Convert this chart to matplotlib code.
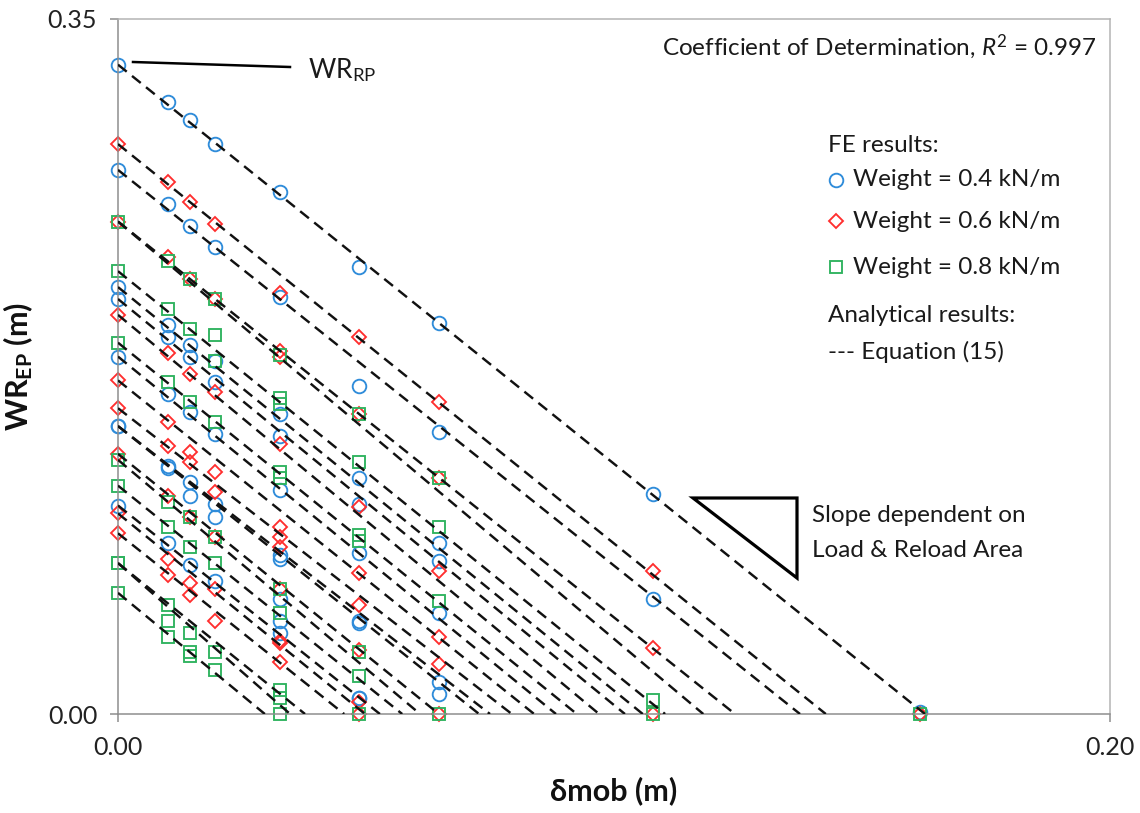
import matplotlib
matplotlib.use("Agg")
import matplotlib.pyplot as plt

plt.rcParams["font.family"] = ["Lato", "DejaVu Sans"]
plt.rcParams["mathtext.fontset"] = "custom"
plt.rcParams["mathtext.rm"] = "Lato"
plt.rcParams["mathtext.it"] = "Lato:italic"
plt.rcParams["mathtext.bf"] = "Lato:bold"

# Mobilised displacement steps (m) at which FE results were extracted
delta_steps = [0.0, 0.0101, 0.0145, 0.0196, 0.0327, 0.0486, 0.0647, 0.1079, 0.1617]

# FE results, WR_EP (m) at each displacement step
wr_w04 = [
    [0.327, 0.274, 0.215, 0.209, 0.180, 0.145, 0.145, 0.105],
    [0.308, 0.257, 0.196, 0.190, 0.161, 0.125, 0.124, 0.086],
    [0.299, 0.246, 0.186, 0.180, 0.152, 0.117, 0.110, 0.075],
    [0.287, 0.235, 0.178, 0.167, 0.141, 0.106, 0.099, 0.067],
    [0.263, 0.210, 0.151, 0.140, 0.113, 0.080, 0.078, 0.058, 0.047, 0.041],
    [0.225, 0.165, 0.119, 0.106, 0.081, 0.047, 0.046, 0.008, 0.008],
    [0.197, 0.142, 0.086, 0.077, 0.051, 0.016, 0.010],
    [0.111, 0.058],
    [0.001],
]
wr_w06 = [
    [0.287, 0.248, 0.201, 0.168, 0.154, 0.131, 0.101, 0.091],
    [0.268, 0.230, 0.182, 0.147, 0.135, 0.110, 0.078, 0.070],
    [0.258, 0.219, 0.171, 0.132, 0.127, 0.099, 0.066, 0.060],
    [0.247, 0.209, 0.162, 0.122, 0.112, 0.089, 0.063, 0.047],
    [0.212, 0.183, 0.180, 0.136, 0.094, 0.089, 0.084, 0.063, 0.037, 0.036, 0.026],
    [0.190, 0.151, 0.104, 0.071, 0.055, 0.032, 0.006, 0.0],
    [0.157, 0.119, 0.072, 0.039, 0.025, 0.0],
    [0.072, 0.033, 0.0],
    [0.0],
]
wr_w08 = [
    [0.248, 0.223, 0.187, 0.128, 0.115, 0.076, 0.076, 0.061],
    [0.228, 0.204, 0.167, 0.107, 0.094, 0.055, 0.047, 0.039],
    [0.219, 0.194, 0.157, 0.099, 0.084, 0.041, 0.031, 0.029],
    [0.209, 0.191, 0.178, 0.147, 0.089, 0.076, 0.031, 0.022],
    [0.181, 0.159, 0.156, 0.122, 0.119, 0.063, 0.051, 0.012, 0.008, 0.0],
    [0.151, 0.127, 0.090, 0.087, 0.031, 0.019, 0.0],
    [0.119, 0.094, 0.057, 0.0],
    [0.007, 0.0],
    [0.0],
]

# Analytical lines, Equation (15): WR_RP intercept and delta at which WR_EP = 0
eq_wr_rp = [0.327, 0.287, 0.274, 0.248, 0.248, 0.223, 0.215, 0.209, 0.201, 0.187,
            0.180, 0.168, 0.154, 0.145, 0.145, 0.131, 0.128, 0.115, 0.105, 0.101,
            0.091, 0.076, 0.076, 0.061]
eq_delta_zero = [0.1627, 0.1427, 0.1375, 0.1244, 0.1180, 0.1103, 0.1058, 0.1022, 0.0970,
                 0.0925, 0.0883, 0.0839, 0.0794, 0.0728, 0.0750, 0.0647, 0.0609, 0.0573,
                 0.0528, 0.0498, 0.0456, 0.0377, 0.0347, 0.0296]

x_ticks = [0.0, 0.20]
y_ticks = [0.0, 0.35]

series = [
    ("Weight = 0.4 kN/m", wr_w04, "o", "#2F8CDA", 9.8),
    ("Weight = 0.6 kN/m", wr_w06, "D", "#FF2E2E", 6.9),
    ("Weight = 0.8 kN/m", wr_w08, "s", "#2EB35E", 9.0),
]

W, H = 1140, 813
fig = plt.figure(figsize=(W / 100, H / 100), dpi=100)
ax = fig.add_axes([118 / W, 1 - 714 / H, (1110 - 118) / W, (714 - 19) / H])
ax.set_xlim(0, 0.20)
ax.set_ylim(0, 0.35)

for label, values, marker, color, ms in series:
    for x, ys in zip(delta_steps, values):
        ax.plot([x] * len(ys), ys, linestyle="none", marker=marker, markersize=ms,
                markerfacecolor="none", markeredgecolor=color, markeredgewidth=1.35,
                clip_on=False, zorder=2)

for y0, xz in zip(eq_wr_rp, eq_delta_zero):
    ax.plot([0, xz], [y0, 0], color="#111111", linewidth=1.75,
            linestyle=(0, (4.6, 2.8)), zorder=3)

for side in ["left", "bottom"]:
    ax.spines[side].set_color("#8E8E8E")
    ax.spines[side].set_linewidth(1.1)
for side in ["top", "right"]:
    ax.spines[side].set_color("#B4B4B4")
    ax.spines[side].set_linewidth(1.1)

ax.set_xticks(x_ticks)
ax.set_xticklabels([f"{v:.2f}" for v in x_ticks])
ax.set_yticks(y_ticks)
ax.set_yticklabels([f"{v:.2f}" for v in y_ticks])
ax.tick_params(axis="both", direction="out", length=6, width=1.1, color="#8E8E8E",
               labelsize=18, labelcolor="#222222")
ax.tick_params(axis="x", pad=10)
ax.tick_params(axis="y", pad=9)

ax.set_xlabel("δmob (m)", fontsize=22, fontweight="bold", labelpad=12, color="#111111")
ax.set_ylabel(r"WR$_{\mathbf{EP}}$ (m)", fontsize=22, fontweight="bold", labelpad=9,
              color="#111111")


def fx(px):
    return px / W


def fy(py):
    return 1 - py / H


# R-squared note
fig.text(fx(1097), fy(47), r"Coefficient of Determination, $\mathit{R}^{2}$ = 0.997",
         ha="right", va="center", fontsize=17.5, color="#1A1A1A")

# WR_RP pointer
fig.add_artist(plt.Line2D([fx(133), fx(290)], [fy(62), fy(67)], color="black",
                          linewidth=1.8))
fig.text(fx(308), fy(70), r"WR$_{\mathrm{RP}}$", ha="left", va="center",
         fontsize=19, color="#1A1A1A")

# Legend block
legend_fs = 17.5
fig.text(fx(828), fy(146), "FE results:", ha="left", va="center", fontsize=legend_fs,
         color="#1A1A1A")
row_y = [180, 221, 267]
for (label, _, marker, color, ms), ry in zip(series, row_y):
    fig.add_artist(plt.Line2D([fx(836)], [fy(ry)], linestyle="none", marker=marker,
                              markersize=ms, markerfacecolor="none",
                              markeredgecolor=color, markeredgewidth=1.35))
    fig.text(fx(853), fy(ry), label, ha="left", va="center", fontsize=legend_fs,
             color="#1A1A1A")
fig.text(fx(828), fy(315), "Analytical results:", ha="left", va="center",
         fontsize=legend_fs, color="#1A1A1A")
fig.text(fx(828), fy(352), "--- Equation (15)", ha="left", va="center",
         fontsize=legend_fs, color="#1A1A1A")

# Slope triangle
fig.add_artist(plt.Polygon([[fx(693), fy(498)], [fx(797), fy(498)], [fx(797), fy(578)]],
                           closed=True, fill=False, edgecolor="black", linewidth=2.3))
fig.text(fx(812), fy(515), "Slope dependent on", ha="left", va="center",
         fontsize=legend_fs, color="#1A1A1A")
fig.text(fx(812), fy(550), "Load & Reload Area", ha="left", va="center",
         fontsize=legend_fs, color="#1A1A1A")

fig.savefig("out.png", dpi=100)
